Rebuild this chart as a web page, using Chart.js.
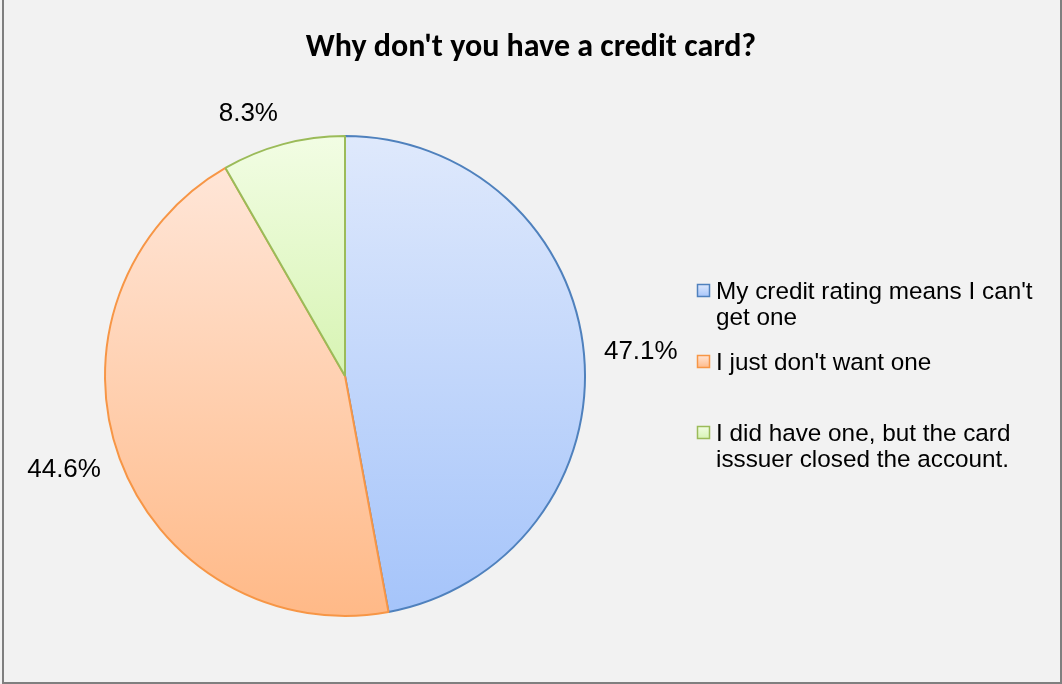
<!DOCTYPE html>
<html>
<head>
<meta charset="utf-8">
<title>Why don't you have a credit card?</title>
<script src="https://cdn.jsdelivr.net/npm/chart.js@4.4.0/dist/chart.umd.min.js"></script>
<style>
  html, body { margin: 0; padding: 0; background: #ffffff; }
  canvas { display: block; }
</style>
</head>
<body>
<canvas id="myChart" width="1062" height="684"></canvas>
<script>
'use strict';
//data
let chartTitle = 'Why don\'t you have a credit card?';
let answers = ['My credit rating means I can\'t get one', 'I just don\'t want one', 'I did have one, but the card isssuer closed the account.'];
let shares = [47.1, 44.6, 8.3];

//colors
let edgeColors = ['#4f81bd', '#f79646', '#9bbb59'];
let lightColors = ['#dfe9fc', '#ffe6d8', '#f2fde4'];
let darkColors = ['#a5c4fa', '#ffb987', '#d7f4b3'];

let labelFont = '26px "Liberation Sans", Arial, sans-serif';
let legendFont = '24.3px "Liberation Sans", Arial, sans-serif';
let titleFont = 'bold 32px Carlito, Lato, sans-serif';

//vertical gradient across each slice's own height
function sliceGradient(context){
  let chart = context.chart;
  let area = chart.chartArea;
  let i = context.dataIndex;
  if(!area || i === undefined) return lightColors[0];
  let cx = (area.left + area.right) / 2;
  let cy = (area.top + area.bottom) / 2;
  let r = Math.min(area.width, area.height) / 2;
  let total = shares.reduce((a, b) => a + b, 0);
  let before = 0;
  for(let k = 0; k < i; k++) before += shares[k];
  let a0 = before / total * Math.PI * 2;
  let a1 = (before + shares[i]) / total * Math.PI * 2;
  let top = cy, bottom = cy;
  for(let s = 0; s <= 90; s++){
    let a = a0 + (a1 - a0) * s / 90;
    let y = cy - r * Math.cos(a);
    top = Math.min(top, y);
    bottom = Math.max(bottom, y);
  }
  let g = chart.ctx.createLinearGradient(0, top, 0, bottom);
  g.addColorStop(0, lightColors[i]);
  g.addColorStop(1, darkColors[i]);
  return g;
}

//grey panel with frame
const panelPlugin = {
  id: 'panel',
  beforeDraw(chart){
    let c = chart.ctx;
    c.save();
    c.fillStyle = '#f2f2f2';
    c.fillRect(0, 0, chart.width, chart.height);
    c.fillStyle = '#7f7f7f';
    c.fillRect(2, 0, 2, chart.height);
    c.fillRect(chart.width - 2, 0, 2, chart.height);
    c.fillRect(2, chart.height - 2, chart.width - 2, 2);
    c.restore();
  }
};

//title, percent labels outside the slices, and the wrapped legend
const textPlugin = {
  id: 'texts',
  afterDatasetsDraw(chart){
    let c = chart.ctx;
    c.save();
    c.fillStyle = '#000000';

    c.font = titleFont;
    c.textAlign = 'center';
    c.textBaseline = 'alphabetic';
    c.fillText(chartTitle, 531, 56);

    c.font = labelFont;
    c.textBaseline = 'middle';
    let meta = chart.getDatasetMeta(0);
    meta.data.forEach((arc, i) => {
      let text = shares[i].toFixed(1) + '%';
      let mid = (arc.startAngle + arc.endAngle) / 2;
      let dx = Math.cos(mid), dy = Math.sin(mid);
      let w = c.measureText(text).width;
      let h = 22;
      let dist = arc.outerRadius + 20;
      let x = arc.x + dist * dx + Math.sign(dx) * w / 2;
      let y = arc.y + dist * dy + dy * h / 2;
      c.fillText(text, x, y);
    });

    //legend
    c.font = legendFont;
    c.textAlign = 'left';
    c.textBaseline = 'alphabetic';
    let boxX = 697, textX = 716, firstBase = 299, slot = 71, lineH = 26, maxW = 330;
    answers.forEach((answer, i) => {
      let base = firstBase + slot * i;
      let g = c.createLinearGradient(0, base - 15, 0, base - 2);
      g.addColorStop(0, lightColors[i]);
      g.addColorStop(1, darkColors[i]);
      c.fillStyle = g;
      c.fillRect(boxX, base - 15, 13, 13);
      c.strokeStyle = edgeColors[i];
      c.lineWidth = 1.5;
      c.strokeRect(boxX + 0.5, base - 14.5, 12, 12);

      c.fillStyle = '#000000';
      let words = answer.split(' ');
      let line = '';
      let lines = [];
      words.forEach(word => {
        let test = line ? line + ' ' + word : word;
        if(c.measureText(test).width > maxW && line){
          lines.push(line);
          line = word;
        } else {
          line = test;
        }
      });
      lines.push(line);
      lines.forEach((l, k) => c.fillText(l, textX, base + k * lineH));
    });
    c.restore();
  }
};

const ctx = document.getElementById('myChart');

new Chart(ctx, {
  type: 'pie',
  data: {
    labels: answers,
    datasets: [{
      data: shares,
      backgroundColor: sliceGradient,
      borderColor: edgeColors,
      borderWidth: 2
    }]
  },
  options: {
    responsive: false,
    animation: false,
    layout: {
      padding: { left: 104, top: 135, right: 476, bottom: 67 }
    },
    plugins: {
      legend: { display: false },
      tooltip: { enabled: false }
    }
  },
  plugins: [panelPlugin, textPlugin]
});
</script>
</body>
</html>
